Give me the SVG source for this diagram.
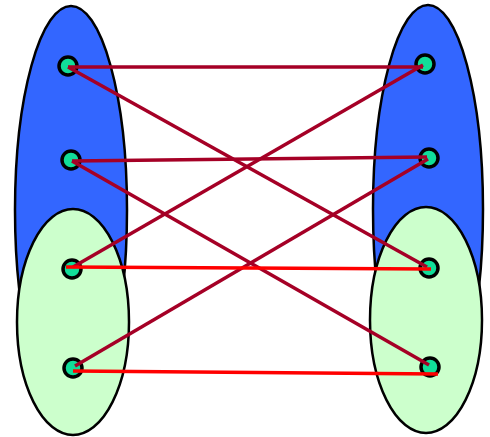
<svg xmlns="http://www.w3.org/2000/svg" width="490" height="437" viewBox="0 0 490 437">
<style>
.blue{fill:#3366ff;stroke:#000;stroke-width:2.5}
.green{fill:#ccffcc;stroke:#000;stroke-width:2.5}
.node{fill:#11dd99;stroke:#000;stroke-width:3.5}
.dk{stroke:#a50026;stroke-width:3.5;fill:none}
.rd{stroke:#ff0000;stroke-width:3.5;fill:none}
</style>
<rect width="490" height="437" fill="#fff"/>
<g id="setA-blue"><ellipse class="blue" cx="71" cy="210" rx="56" ry="204"/></g>
<g id="setB-blue"><ellipse class="blue" cx="428" cy="209" rx="55" ry="204"/></g>
<g id="setA-green"><ellipse class="green" cx="73" cy="322" rx="56" ry="113"/></g>
<g id="setB-green"><ellipse class="green" cx="426" cy="320" rx="56" ry="113"/></g>
<g id="a1"><circle class="node" cx="68" cy="66" r="9"/></g>
<g id="a2"><circle class="node" cx="71" cy="160" r="9"/></g>
<g id="a3"><circle class="node" cx="72" cy="269" r="9"/></g>
<g id="a4"><circle class="node" cx="73" cy="368" r="9"/></g>
<g id="b1"><circle class="node" cx="425" cy="64" r="9"/></g>
<g id="b2"><circle class="node" cx="429" cy="158" r="9"/></g>
<g id="b3"><circle class="node" cx="429" cy="268" r="9"/></g>
<g id="b4"><circle class="node" cx="430" cy="367" r="9"/></g>
<g id="connectors">
<line class="dk" x1="68" y1="67" x2="423" y2="67"/>
<line class="dk" x1="68" y1="67" x2="427" y2="267"/>
<line class="dk" x1="72" y1="161" x2="427" y2="157"/>
<line class="dk" x1="72" y1="161" x2="429" y2="365"/>
<line class="dk" x1="73" y1="267" x2="423" y2="65"/>
<line class="dk" x1="75" y1="366" x2="428" y2="159"/>
<line class="rd" x1="66" y1="267" x2="431" y2="269"/>
<line class="rd" x1="73" y1="371" x2="438" y2="374"/>
</g>
</svg>
